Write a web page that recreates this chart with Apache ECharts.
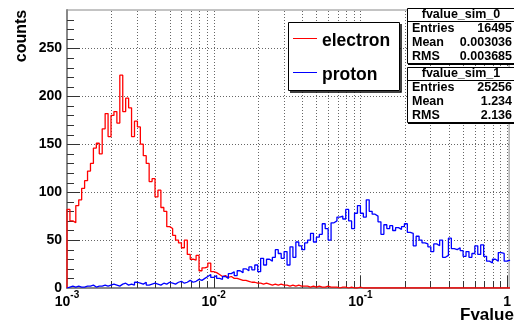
<!DOCTYPE html>
<html>
<head>
<meta charset="utf-8">
<script src="https://cdn.jsdelivr.net/npm/echarts@6/dist/echarts.min.js"></script>
<style>
  html, body { margin: 0; padding: 0; background: #fff; }
  #chart { width: 514px; height: 325px; }
</style>
</head>
<body>
<div id="chart"></div>
<script>
// Histogram binning: logarithmic bins, 50 per decade, starting at 10^-3
const BINS_PER_DECADE = 50;
const X_MIN_EXP = -3;
const X_MAX_EXP = 0.0136;
const Y_MAX = 290;

const seriesNames = ['electron', 'proton'];

// electron counts per bin
const electronCounts = [
  82, 70, 68, 86, 92, 104, 112, 122, 130, 146,
  151, 140, 166, 182, 158, 180, 184, 172, 222, 184,
  198, 188, 158, 174, 168, 150, 138, 130, 111, 114,
  95, 102, 84, 80, 64, 62, 55, 50, 47, 42,
  50, 35, 30, 29, 34, 18, 21, 22, 26, 17,
  16, 14, 12, 13, 11, 12, 10, 10, 9, 8,
  8, 7, 6, 6, 5, 5, 4, 5, 4, 3,
  4, 3, 4, 3, 3, 2, 3, 2, 3, 2,
  2, 2, 1, 2, 1, 2, 1, 1, 2, 1,
  1, 1, 0, 1, 1, 0, 1, 0, 0, 1,
  0, 0, 0, 0, 0, 0, 0, 0, 0, 0,
  0, 0, 0, 0, 0, 0, 0, 0, 0, 0,
  0, 0, 0, 0, 0, 0, 0, 0, 0, 0,
  0, 0, 0, 0, 0, 0, 0, 0, 0, 0,
  0, 0, 0, 0, 0, 0, 0, 0, 0, 0,
  0
];

// proton counts per bin
const protonCounts = [
  1, 2, 1, 2, 1, 1, 2, 2, 3, 1,
  2, 2, 3, 2, 3, 4, 3, 2, 4, 5,
  3, 4, 3, 6, 5, 4, 6, 3, 4, 5,
  4, 3, 5, 4, 6, 5, 4, 6, 7, 5,
  6, 8, 6, 7, 9, 8, 10, 12, 14, 11,
  13, 10, 9, 12, 10, 15, 17, 13, 18, 16,
  20, 18, 22, 19, 24, 17, 31, 24, 30, 28,
  32, 40, 36, 31, 38, 24, 43, 32, 48, 44,
  40, 47, 50, 57, 48, 53, 56, 67, 62, 50,
  68, 70, 74, 75, 72, 82, 70, 62, 78, 86,
  78, 74, 92, 80, 77, 75, 69, 56, 66, 62,
  65, 60, 63, 61, 64, 67, 58, 57, 44, 54,
  50, 47, 46, 43, 38, 46, 44, 50, 32, 34,
  52, 41, 40, 42, 39, 33, 38, 32, 36, 44,
  35, 45, 33, 28, 26, 30, 28, 37, 36, 28,
  29
];

const yTickLabels = [0, 50, 100, 150, 200, 250];

const statsTitles = ['fvalue_sim_0', 'fvalue_sim_1'];
const statsNames = ['Entries', 'Mean', 'RMS'];
const statsValues = [
  ['16495', '0.003036', '0.003685'],
  ['25256', '1.234', '2.136']
];

const FONT = '"Liberation Sans", Arial, Helvetica, sans-serif';

// Convert per-bin counts into step-line vertices (x in log10 units)
function histPoints(counts) {
  const pts = [[X_MIN_EXP, 0]];
  counts.forEach((c, i) => pts.push([X_MIN_EXP + i / BINS_PER_DECADE, c]));
  pts.push([X_MIN_EXP + counts.length / BINS_PER_DECADE, counts[counts.length - 1]]);
  return pts;
}

// Log-axis tick positions: k * 10^d
const xTicks = [];
for (let d = -3; d <= 0; d++) {
  for (let k = 1; k <= 9; k++) {
    const v = d + Math.log10(k);
    if (v > X_MIN_EXP + 1e-9 && v <= X_MAX_EXP) xTicks.push([v, k === 1 ? 1 : 0]);
  }
}
const yTicks = [];
for (let v = 10; v < Y_MAX; v += 10) yTicks.push([X_MIN_EXP, v]);

function crisp(v) { return Math.round(v) + 0.5; }

const chart = echarts.init(document.getElementById('chart'), null, { renderer: 'canvas' });

const graphics = [];
// y-axis title
graphics.push({
  type: 'text', x: 22, y: 36, rotation: Math.PI / 2, z: 20,
  style: { text: 'counts', font: 'bold 16px ' + FONT, fill: '#000', align: 'center', verticalAlign: 'middle' }
});
// x-axis title
graphics.push({
  type: 'text', x: 460, y: 315, z: 20,
  style: { text: 'Fvalue', font: 'bold 17px ' + FONT, fill: '#000', align: 'left', verticalAlign: 'middle' }
});
// legend box
graphics.push({ type: 'rect', shape: { x: 288.5, y: 22.5, width: 111, height: 68 }, z: 20,
  style: { fill: '#fff', stroke: '#000', lineWidth: 1 } });
graphics.push({ type: 'polyline', shape: { points: [[401, 24], [401, 92], [290, 92]] }, z: 20,
  style: { stroke: '#000', lineWidth: 1.5, fill: null } });
const legendColors = ['#ff0000', '#0000ff'];
const legendY = [39, 73];
seriesNames.forEach((name, i) => {
  graphics.push({ type: 'line', shape: { x1: 293, y1: legendY[i] - 0.5, x2: 317, y2: legendY[i] - 0.5 }, z: 21,
    style: { stroke: legendColors[i], lineWidth: 1 } });
  graphics.push({ type: 'text', x: 322, y: legendY[i] + 2, z: 21,
    style: { text: name, font: 'bold 17.5px ' + FONT, fill: '#000', align: 'left', verticalAlign: 'middle' } });
});
// statistics boxes
const boxTop = [8, 67];
statsTitles.forEach((title, b) => {
  const top = boxTop[b];
  graphics.push({ type: 'rect', shape: { x: 407.5, y: top + 0.5, width: 120, height: 55 }, z: 20,
    style: { fill: '#fff', stroke: '#000', lineWidth: 1 } });
  graphics.push({ type: 'line', shape: { x1: 408, y1: top + 56.5, x2: 520, y2: top + 56.5 }, z: 20,
    style: { stroke: '#000', lineWidth: 1 } });
  graphics.push({ type: 'line', shape: { x1: 407.5, y1: top + 13.5, x2: 520, y2: top + 13.5 }, z: 21,
    style: { stroke: '#000', lineWidth: 1 } });
  graphics.push({ type: 'text', x: 461, y: top + 7, z: 21,
    style: { text: title, font: 'bold 12.5px ' + FONT, fill: '#000', align: 'center', verticalAlign: 'middle' } });
  statsNames.forEach((n, r) => {
    const y = top + 21 + r * 14;
    graphics.push({ type: 'text', x: 412, y: y, z: 21,
      style: { text: n, font: 'bold 12.5px ' + FONT, fill: '#000', align: 'left', verticalAlign: 'middle' } });
    graphics.push({ type: 'text', x: 512, y: y, z: 21,
      style: { text: statsValues[b][r], font: 'bold 12.5px ' + FONT, fill: '#000', align: 'right', verticalAlign: 'middle' } });
  });
});

const option = {
  backgroundColor: '#fff',
  animation: false,
  grid: { left: 67, right: 0, top: 10, bottom: 37, show: true, borderColor: '#888', borderWidth: 1, backgroundColor: 'transparent' },
  xAxis: {
    type: 'value', min: X_MIN_EXP, max: X_MAX_EXP, interval: 1,
    axisLine: { show: true, onZero: false, lineStyle: { color: '#888', width: 2 } },
    axisTick: { show: false },
    splitLine: { show: false },
    axisLabel: {
      margin: 2,
      showMaxLabel: false,
      formatter: function (v) {
        const e = Math.round(v);
        if (Math.abs(v - e) > 1e-6) return '';
        if (e === 0) return '{b|1}';
        return '{b|10}{s|' + e + '}';
      },
      rich: {
        b: { fontFamily: FONT, fontWeight: 'bold', fontSize: 14, lineHeight: 19, verticalAlign: 'bottom', color: '#000' },
        s: { fontFamily: FONT, fontWeight: 'bold', fontSize: 10, lineHeight: 19, verticalAlign: 'top', color: '#000' }
      }
    }
  },
  yAxis: {
    type: 'value', min: 0, max: Y_MAX, interval: 50,
    axisLine: { show: true, onZero: false, lineStyle: { color: '#888', width: 2 } },
    axisTick: { show: false },
    splitLine: { show: false },
    axisLabel: {
      margin: 5, fontFamily: FONT, fontWeight: 'bold', fontSize: 14, color: '#000',
      formatter: function (v) { return yTickLabels.indexOf(v) >= 0 ? String(v) : ''; }
    }
  },
  graphic: graphics,
  series: [
    {
      // vertical dotted grid and ticks along the log x axis
      type: 'custom', z: 1, silent: true,
      data: xTicks,
      encode: { x: 0, y: 1 },
      renderItem: function (params, api) {
        const p0 = api.coord([api.value(0), 0]);
        const p1 = api.coord([api.value(0), Y_MAX]);
        const x = crisp(p0[0]);
        const len = api.value(1) ? 12 : 7;
        return { type: 'group', children: [
          { type: 'line', shape: { x1: x, y1: p0[1], x2: x, y2: p1[1] },
            style: { stroke: '#666', lineWidth: 1, lineDash: [1, 2] } },
          { type: 'line', shape: { x1: x, y1: p0[1], x2: x, y2: p0[1] - len },
            style: { stroke: '#333', lineWidth: 1 } }
        ] };
      }
    },
    {
      // horizontal dotted grid and ticks along the y axis
      type: 'custom', z: 1, silent: true,
      data: yTicks,
      encode: { x: 0, y: 1 },
      renderItem: function (params, api) {
        const v = api.value(1);
        const p0 = api.coord([X_MIN_EXP, v]);
        const p1 = api.coord([X_MAX_EXP, v]);
        const y = crisp(p0[1]);
        const major = v % 50 === 0;
        const children = [
          { type: 'line', shape: { x1: p0[0], y1: y, x2: p0[0] + (major ? 13 : 7), y2: y },
            style: { stroke: '#333', lineWidth: 1 } }
        ];
        if (major) children.unshift({ type: 'line', shape: { x1: p0[0], y1: y, x2: p1[0], y2: y },
          style: { stroke: '#666', lineWidth: 1, lineDash: [1, 2] } });
        return { type: 'group', children: children };
      }
    },
    {
      name: seriesNames[0], type: 'line', step: 'end', z: 3,
      data: histPoints(electronCounts),
      symbol: 'none', showSymbol: false, clip: true,
      lineStyle: { color: '#ff0000', width: 1.3 }
    },
    {
      name: seriesNames[1], type: 'line', step: 'end', z: 3,
      data: histPoints(protonCounts),
      symbol: 'none', showSymbol: false, clip: true,
      lineStyle: { color: '#0000ff', width: 1.3 }
    }
  ]
};
chart.setOption(option);
</script>
</body>
</html>
